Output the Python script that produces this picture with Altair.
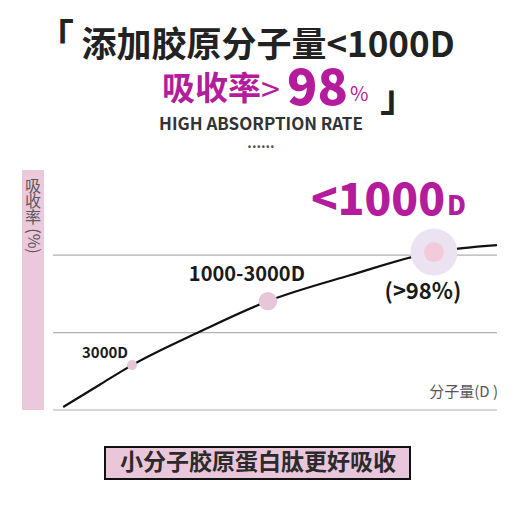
import altair as alt
import pandas as pd

# ---- data (chart units: x = position along molecular-weight axis 0-100, y = absorption index) ----
curve_x = [2.3, 10.6, 17.8, 33.0, 48.4, 66.9, 85.8, 100.0]
curve_y = [1.9, 16.5, 29.0, 50.5, 70.3, 87.0, 102.0, 106.5]
grid_y = [0, 50, 100]
point_names = ["3000D", "1000-3000D", "<1000D"]
point_x = [17.8, 48.4, 85.8]
point_y = [29.0, 70.3, 102.0]
title_main = "添加胶原分子量<1000D"
title_rate = "吸收率"
title_gt = ">"
title_num = "98"
title_pct = "%"
subtitle = "HIGH ABSORPTION RATE"
y_label_chars = ["吸", "收", "率"]
y_label_unit = "(%)"
x_label = "分子量(D )"
big_label_num = "<1000"
big_label_unit = "D"
big_rate_label = "(>98%)"
footer = "小分子胶原蛋白肽更好吸收"

FONT = "Noto Sans CJK SC"
MAGENTA = "#b51c9c"

curve = pd.DataFrame({"x": curve_x, "y": curve_y})
grid = pd.DataFrame({"y": grid_y})
pts = pd.DataFrame({"name": point_names, "x": point_x, "y": point_y})
one = pd.DataFrame({"k": [0]})

X = alt.X("x:Q", scale=alt.Scale(domain=[0, 100]), axis=None)
Y = alt.Y("y:Q", scale=alt.Scale(domain=[0, 155]), axis=None)

band = alt.Chart(one).mark_rect(color="#ecc8dc").encode(
    x=alt.value(-31), x2=alt.value(-9), y=alt.value(0), y2=alt.value(240))

grid_l = alt.Chart(grid).mark_rule(color="#b0b0b0", strokeWidth=1.2).encode(y=Y)

line = alt.Chart(curve).mark_line(color="#111111", strokeWidth=2.2, interpolate="monotone").encode(x=X, y=Y)

def pt(name):
    return alt.Chart(pts).transform_filter(alt.datum.name == name)

p_small = pt("3000D").mark_circle(color="#e8c6da", opacity=1, size=100).encode(x=X, y=Y)
p_mid = pt("1000-3000D").mark_circle(color="#e8c6da", opacity=1, size=340).encode(x=X, y=Y)
p_big_o = pt("<1000D").mark_circle(color="#ebe2f2", opacity=1, size=2200).encode(x=X, y=Y)
p_big_i = pt("<1000D").mark_circle(color="#f3cad9", opacity=1, size=400).encode(x=X, y=Y)

lab_small = pt("3000D").mark_text(font=FONT, fontWeight="bold", fontSize=15, color="#1a1a1a",
                                  dx=-27, dy=-12).encode(x=X, y=Y, text="name:N")
lab_mid = pt("1000-3000D").mark_text(font=FONT, fontWeight="bold", fontSize=20, color="#1a1a1a",
                                     dx=-21, dy=-26).encode(x=X, y=Y, text="name:N")
lab_rate = pt("<1000D").mark_text(font=FONT, fontWeight="bold", fontSize=22, color="#1a1a1a",
                                  dx=-11, dy=40).encode(x=X, y=Y, text=alt.value(big_rate_label))
lab_big = pt("<1000D").mark_text(font=FONT, fontWeight=900, fontSize=44, color=MAGENTA,
                                 align="right", baseline="alphabetic", dx=11, dy=-37).encode(
    x=X, y=Y, text=alt.value(big_label_num))
lab_big_d = pt("<1000D").mark_text(font=FONT, fontWeight=900, fontSize=26, color=MAGENTA,
                                   align="left", baseline="alphabetic", dx=13, dy=-37).encode(
    x=X, y=Y, text=alt.value(big_label_unit))

def txt(t, x, y, **kw):
    return alt.Chart(one).mark_text(font=FONT, **kw).encode(
        x=alt.value(x), y=alt.value(y), text=alt.value(t))

t_open = txt("「", 2, -130, fontSize=38, fontWeight="bold", color="#222222")
t_main = txt(title_main, 215, -124, fontSize=35, fontWeight="bold", color="#222222", baseline="middle")
t_rate = txt(title_rate, 109, -80, fontSize=33, fontWeight="bold", color=MAGENTA, align="left", baseline="middle")
t_gt = txt(title_gt, 208, -78, fontSize=34, fontWeight="normal", color=MAGENTA, align="left", baseline="middle")
t_num = txt(title_num, 234, -80, fontSize=50, fontWeight=900, color=MAGENTA, align="left", baseline="middle")
t_pct = txt(title_pct, 297, -75, fontSize=20, fontWeight="normal", color=MAGENTA, align="left", baseline="middle")
t_close = txt("」", 346, -70, fontSize=38, fontWeight="bold", color="#222222")
t_sub = txt(subtitle, 208, -45, fontSize=17, fontWeight="bold", color="#333333", baseline="middle")
t_dots = txt("......", 208, -22, fontSize=14, fontWeight="bold", color="#555555", baseline="alphabetic")

t_ych = [txt(c, -20, yy, fontSize=16, color="#5a5a5a", baseline="middle")
         for c, yy in zip(y_label_chars, [17, 32, 48])]
t_yunit = txt(y_label_unit, -20, 71, fontSize=16, color="#5a5a5a", baseline="middle", angle=90)
t_xlab = txt(x_label, 445, 222, fontSize=15, color="#555555", align="right", baseline="middle")

box = alt.Chart(one).mark_rect(color="#eac6da", stroke="#111111", strokeWidth=2).encode(
    x=alt.value(52), x2=alt.value(357), y=alt.value(277), y2=alt.value(309))
t_footer = txt(footer, 205, 293, fontSize=23, fontWeight="bold", color="#2b2b2b", baseline="middle")

chart = alt.layer(
    band, grid_l, line, p_small, p_mid, p_big_o, p_big_i,
    lab_small, lab_mid, lab_rate, lab_big, lab_big_d,
    t_open, t_main, t_rate, t_gt, t_num, t_pct, t_close, t_sub, t_dots,
    *t_ych, t_yunit, t_xlab, box, t_footer,
).properties(
    width=444, height=240, autosize="none",
    padding={"left": 45, "top": 162, "right": 15, "bottom": 102},
    background="white",
).configure_view(stroke=None)

chart.save("out.html", embed_options={"renderer": "svg", "actions": False})
